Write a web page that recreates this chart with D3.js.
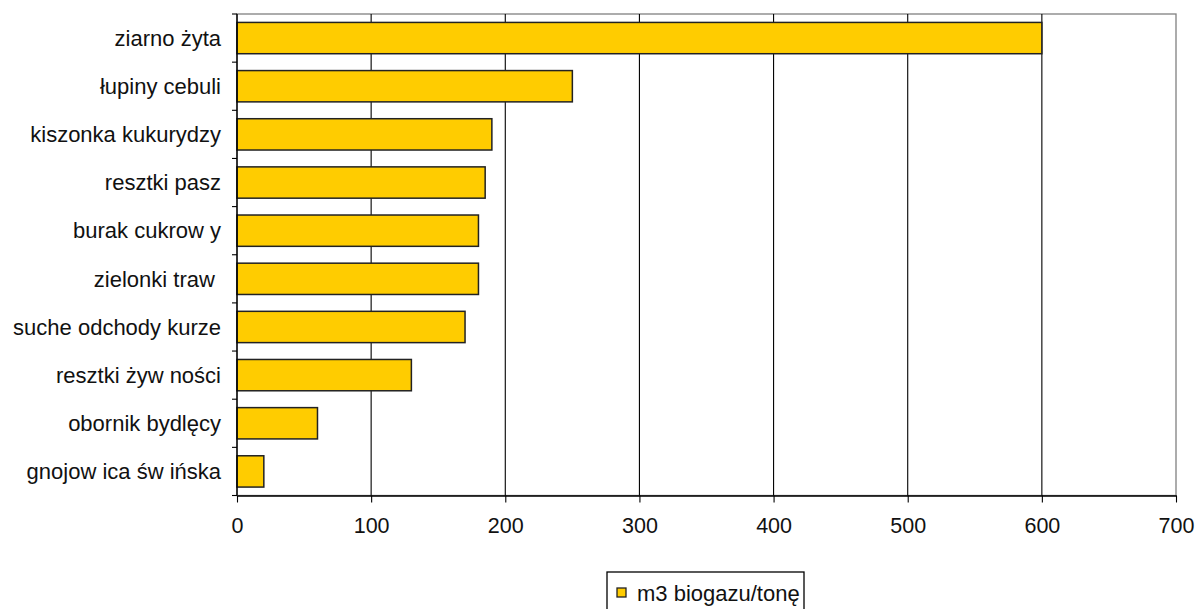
<!DOCTYPE html>
<html>
<head>
<meta charset="utf-8">
<script src="https://cdn.jsdelivr.net/npm/d3@7"></script>
<style>
  html, body { margin: 0; padding: 0; background: #fff; }
  svg { display: block; font-family: "Liberation Sans", Arial, sans-serif; }
  text { white-space: pre; }
</style>
</head>
<body>
<svg id="chart" width="1197" height="609"></svg>
<script>
const categories = ["ziarno żyta", "łupiny cebuli", "kiszonka kukurydzy", "resztki pasz", "burak cukrow y", "zielonki traw ", "suche odchody kurze", "resztki żyw ności", "obornik bydlęcy", "gnojow ica św ińska"];
const values = [600, 250, 190, 185, 180, 180, 170, 130, 60, 20];
const xTicks = [0, 100, 200, 300, 400, 500, 600, 700];
const seriesName = "m3 biogazu/tonę";

const svg = d3.select("#chart");
const pLeft = 237, pRight = 1176, pTop = 14, pBottom = 495.5;

const x = d3.scaleLinear().domain([0, 700]).range([pLeft, pRight]);
const y = d3.scaleBand().domain(categories).range([pTop, pBottom]).paddingInner(0.35).paddingOuter(0.175);

// plot border (gray top/right)
svg.append("rect").attr("x", pLeft).attr("y", pTop).attr("width", pRight - pLeft).attr("height", pBottom - pTop)
  .attr("fill", "none").attr("stroke", "#808080").attr("stroke-width", 1.3);

// gridlines
svg.append("g").selectAll("line").data(xTicks.filter(d => d > 0 && d < 700)).join("line")
  .attr("x1", d => x(d)).attr("x2", d => x(d)).attr("y1", pTop).attr("y2", pBottom)
  .attr("stroke", "#000").attr("stroke-width", 1.1);

// bars
svg.append("g").selectAll("rect").data(categories).join("rect")
  .attr("x", x(0))
  .attr("y", d => y(d))
  .attr("width", (d, i) => x(values[i]) - x(0))
  .attr("height", y.bandwidth())
  .attr("fill", "#FFCC00")
  .attr("stroke", "#222")
  .attr("stroke-width", 1.5);

// x axis
const xAxis = d3.axisBottom(x).tickValues(xTicks).tickSize(7).tickPadding(15).tickSizeOuter(0);
const gx = svg.append("g").attr("transform", `translate(0,${pBottom})`).call(xAxis);
gx.select(".domain").attr("stroke", "#000").attr("stroke-width", 1.4);
gx.selectAll(".tick line").attr("stroke", "#000").attr("stroke-width", 1.1);
gx.selectAll(".tick text").attr("font-size", 21.5).attr("fill", "#111").attr("font-family", "Liberation Sans, Arial, sans-serif");

// y axis: ticks at band boundaries
const boundaries = d3.range(categories.length + 1).map(i => pTop + i * (pBottom - pTop) / categories.length);
svg.append("line").attr("x1", pLeft).attr("x2", pLeft).attr("y1", pTop).attr("y2", pBottom)
  .attr("stroke", "#000").attr("stroke-width", 1.4);
svg.append("g").selectAll("line").data(boundaries).join("line")
  .attr("x1", pLeft - 5).attr("x2", pLeft).attr("y1", d => d).attr("y2", d => d)
  .attr("stroke", "#000").attr("stroke-width", 1.1);

svg.append("g").selectAll("text").data(categories).join("text")
  .attr("x", pLeft - 16)
  .attr("y", d => y(d) + y.bandwidth() / 2)
  .attr("dy", "0.35em")
  .attr("text-anchor", "end")
  .attr("font-size", 22)
  .attr("fill", "#111")
  .text(d => d);

// legend
const lg = svg.append("g");
lg.append("rect").attr("x", 607).attr("y", 572).attr("width", 197).attr("height", 50)
  .attr("fill", "#fff").attr("stroke", "#000").attr("stroke-width", 1.3);
lg.append("rect").attr("x", 617).attr("y", 588).attr("width", 9).attr("height", 9)
  .attr("fill", "#FFCC00").attr("stroke", "#222").attr("stroke-width", 1.3);
lg.append("text").attr("x", 637).attr("y", 593).attr("dy", "0.35em")
  .attr("font-size", 22).attr("fill", "#111").text(seriesName);
</script>
</body>
</html>
